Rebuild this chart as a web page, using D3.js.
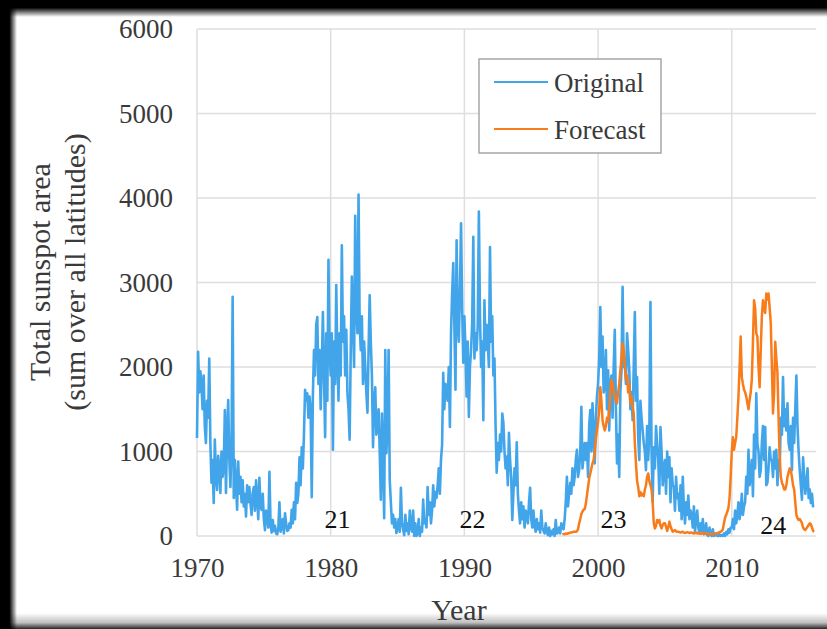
<!DOCTYPE html>
<html>
<head>
<meta charset="utf-8">
<script src="https://cdn.jsdelivr.net/npm/d3@7/dist/d3.min.js"></script>
<style>
  body { margin: 0; background: #fff; }
  svg { display: block; }
</style>
</head>
<body>
<div id="chart"></div>
<script>
// monthly total sunspot area (one row per year)
const originalStart = 1970;
const originalArea = [
  1160, 2180, 1700, 1950, 1800, 1500, 1900, 1300, 1100, 1600, 1400, 2100, // 1970
  1100, 630, 900, 390, 1140, 700, 545, 950, 800, 510, 1000, 700,
  800, 1490, 510, 1200, 1610, 900, 580, 1100, 2830, 450, 900, 600,
  310, 880, 500, 700, 400, 660, 350, 500, 230, 600, 400, 580,
  390, 250, 500, 580, 300, 660, 450, 200, 690, 350, 310, 500,
  200, 70, 300, 230, 100, 760, 150, 40, 190, 60, 120, 30,           // 1975
  20, 100, 400, 50, 110, 200, 30, 270, 150, 60, 70, 150,
  100, 310, 150, 400, 200, 630, 390, 500, 930, 600, 1050, 800,
  1200, 1730, 1600, 1690, 1400, 1650, 1500, 460, 1650, 2200, 1900, 2500,
  2590, 1800, 2200, 1500, 2000, 2650, 1900, 1170, 2400, 1600, 3270, 2200,
  1900, 2400, 1020, 2300, 1800, 2970, 2100, 1600, 2400, 1900, 3440, 2300, // 1980
  2600, 1900, 2440, 1700, 1500, 1140, 2200, 3070, 2500, 2000, 3790, 2700,
  2400, 4040, 2500, 2200, 2600, 1800, 2300, 2000, 1700, 1460, 2200, 2850,
  2300, 1900, 1050, 1600, 1760, 1200, 1290, 1500, 1000, 430, 1450, 900,
  210, 2200, 980, 1300, 2200, 660, 400, 150, 250, 100, 200, 35,
  100, 200, 50, 570, 150, 80, 10, 250, 60, 150, 20, 300,             // 1985
  100, 50, 300, 0, 150, 0, 30, 200, 0, 100, 50, 430,
  150, 200, 100, 580, 250, 400, 150, 300, 600, 350, 520, 450,
  600, 800, 500, 900, 1080, 1930, 1500, 1800, 1690, 1600, 2000, 1290,
  2400, 2870, 3230, 2500, 1730, 3500, 2600, 2300, 2900, 3700, 2700, 2050,
  2600, 2200, 1650, 2300, 1410, 2000, 2200, 2520, 3540, 2100, 2400, 2200, // 1990
  2500, 3840, 2600, 2000, 2300, 1370, 2790, 2200, 2500, 2300, 2000, 3420,
  2300, 2600, 1900, 2100, 1300, 750, 1100, 900, 1200, 1000, 1450, 1340,
  1000, 800, 940, 600, 1220, 900, 700, 190, 520, 800, 600, 1110,
  500, 300, 150, 400, 200, 350, 100, 300, 250, 150, 400, 570,
  200, 100, 300, 120, 50, 200, 80, 150, 40, 300, 100, 60,            // 1995
  30, 150, 50, 10, 100, 0, 60, 20, 80, 0, 190, 30,
  40, 100, 30, 150, 100, 80, 200, 400, 700, 350, 500, 630,
  500, 800, 600, 700, 900, 1020, 700, 780, 1000, 1530, 800, 930,
  1100, 900, 1100, 700, 1300, 1490, 1000, 1570, 1200, 860, 1400, 1650,
  1800, 2100, 2710, 2000, 2360, 1700, 1760, 2200, 1500, 1960, 1250, 1800, // 2000
  1900, 1400, 2000, 2440, 1500, 860, 1200, 700, 1700, 1960, 2950, 2000,
  2100, 1800, 2400, 2200, 1960, 1500, 1700, 1370, 2000, 2650, 1600, 1880,
  1170, 900, 1600, 1400, 1250, 1100, 1000, 780, 1300, 900, 1200, 2770,
  1000, 400, 1050, 800, 1300, 1100, 900, 500, 1290, 1000, 600, 800,
  900, 500, 1000, 700, 930, 400, 800, 600, 580, 300, 700, 450,       // 2005
  500, 300, 600, 200, 700, 350, 150, 400, 250, 480, 200, 300,
  250, 100, 350, 50, 200, 300, 100, 30, 150, 60, 200, 20,
  50, 150, 10, 0, 100, 20, 0, 80, 0, 10, 30, 0,
  0, 20, 0, 10, 0, 30, 0, 50, 20, 80, 40, 100,
  100, 200, 80, 300, 150, 250, 400, 200, 300, 500, 250, 350,         // 2010
  400, 700, 500, 1020, 600, 700, 900, 470, 1200, 800, 1690, 1100,
  1000, 700, 780, 1100, 1300, 900, 1290, 600, 630, 800, 1050, 900,
  900, 700, 1000, 800, 1020, 600, 900, 780, 1400, 1200, 1880, 1300,
  1500, 1250, 1570, 1100, 1020, 1300, 780, 1400, 1100, 1500, 1900, 1300,
  1000, 780, 600, 430, 930, 700, 500, 630, 800, 450, 550, 390,       // 2015
  500, 340
];

// forecast starts May 1997
const forecastStart = 1997 + 4 / 12;
const forecastArea = [
  20, 25, 20, 30, 25, 30, 35, 40,                                    // 1997
  40, 45, 50, 50, 50, 55, 80, 150, 200, 260, 290, 310,
  320, 380, 480, 580, 680, 740, 800, 860, 900, 1000, 1150, 1250,
  1350, 1490, 1760, 1600, 1370, 1300, 1250, 1300, 1400, 1350, 1490, 1700, // 2000
  1850, 1800, 1700, 1650, 1600, 1570, 1700, 1800, 1960, 2100, 2280, 2200,
  2000, 1850, 1900, 1700, 1800, 1570, 1650, 1530, 1450, 1100, 860, 650,
  580, 470, 520, 480, 500, 470, 550, 600, 700, 740, 650, 600,
  550, 400, 150, 90, 120, 190, 160, 190, 120, 90, 130, 150,
  150, 110, 60, 100, 170, 120, 80, 50, 60, 70, 55, 50,               // 2005
  50, 45, 40, 45, 50, 40, 35, 40, 45, 40, 35, 40,
  40, 35, 30, 35, 40, 30, 35, 30, 25, 30, 35, 30,
  30, 25, 30, 20, 25, 30, 25, 20, 25, 30, 25, 30,
  40, 45, 50, 60, 80, 150, 220, 250, 290, 330, 450, 700,
  1000, 1170, 1020, 1100, 1170, 1400, 1650, 2000, 2360, 1880, 1800, 1730, // 2010
  1700, 1650, 1570, 1500, 1610, 1700, 1850, 2300, 2790, 2700, 2400, 2360,
  2000, 1760, 2200, 2600, 2790, 2700, 2640, 2870, 2800, 2870, 2700, 2520,
  2000, 1450, 1700, 2300, 2100, 1930, 1400, 930, 700, 630, 600, 550,
  550, 600, 700, 750, 800, 780, 700, 600, 550, 400, 250, 210,
  190, 200, 180, 150, 100, 80, 70, 90, 110, 130, 150, 140,           // 2015
  100, 60, 50
];

const seriesNames = ["Original", "Forecast"];
const yTicks = [0, 1000, 2000, 3000, 4000, 5000, 6000];
const xTicks = [1970, 1980, 1990, 2000, 2010];
const cycleNames = ["21", "22", "23", "24"];
const cycleYears = [1980.5, 1990.6, 2001.15, 2013.1];
const cycleLevels = [90, 100, 90, 25];

const COLOR_ORIGINAL = "#42a5ea";
const COLOR_FORECAST = "#f97c1a";
const W = 827, H = 629;
const margin = { top: 29, right: 11, bottom: 93, left: 197 };

const svg = d3.select("#chart").append("svg").attr("width", W).attr("height", H);

// dark slide frame (top / left / bottom shadows)
const defs = svg.append("defs");
function grad(id, x2, y2, stops) {
    const g = defs.append("linearGradient").attr("id", id)
        .attr("x1", 0).attr("y1", 0).attr("x2", x2).attr("y2", y2);
    stops.forEach(s => g.append("stop").attr("offset", s[0]).attr("stop-color", s[1]).attr("stop-opacity", s[2]));
}
grad("gTop", 0, 1, [[0, "#000", 1], [0.45, "#000", 1], [1, "#000", 0]]);
grad("gLeft", 1, 0, [[0, "#000", 1], [0.55, "#000", 1], [1, "#000", 0]]);
grad("gBot", 0, 1, [[0, "#000", 0], [0.6, "#000", 0.25], [1, "#000", 0.85]]);

svg.append("rect").attr("width", W).attr("height", H).attr("fill", "#fff");
svg.append("rect").attr("x", 0).attr("y", 0).attr("width", W).attr("height", 17).attr("fill", "url(#gTop)");
svg.append("rect").attr("x", 0).attr("y", 0).attr("width", 17).attr("height", H).attr("fill", "url(#gLeft)");
svg.append("rect").attr("x", 0).attr("y", 613).attr("width", W).attr("height", 16).attr("fill", "url(#gBot)");

// scales
const x = d3.scaleLinear().domain([1970, 2016.3]).range([margin.left, W - margin.right]);
const y = d3.scaleLinear().domain([0, 6000]).range([H - margin.bottom, margin.top]);

const serif = "'Liberation Serif', 'Times New Roman', serif";

// gridlines
const grid = svg.append("g");
grid.selectAll("line.h").data(yTicks).join("line").attr("class", "h")
    .attr("x1", x(1970)).attr("x2", x.range()[1])
    .attr("y1", d => y(d)).attr("y2", d => y(d))
    .attr("stroke", "#dedede").attr("stroke-width", 1.5);
grid.selectAll("line.v").data(xTicks).join("line").attr("class", "v")
    .attr("x1", d => x(d)).attr("x2", d => x(d))
    .attr("y1", y(6000)).attr("y2", y(0))
    .attr("stroke", "#dedede").attr("stroke-width", 1.5);

// axes (labels only, no domain / tick marks)
const yAxis = d3.axisLeft(y).tickValues(yTicks).tickSize(0).tickPadding(24).tickFormat(d3.format("d"));
const gY = svg.append("g").attr("transform", `translate(${margin.left},0)`).call(yAxis);
const xAxis = d3.axisBottom(x).tickValues(xTicks).tickSize(0).tickPadding(22).tickFormat(d3.format("d"));
const gX = svg.append("g").attr("transform", `translate(0,${y(0)})`).call(xAxis);
[gY, gX].forEach(g => {
    g.select(".domain").remove();
    g.selectAll("text").attr("font-family", serif).attr("font-size", 27).attr("fill", "#3a3a3a");
});

// lines
const toPoints = (start, arr) => arr.map((v, i) => [start + i / 12, v]);
const line = d3.line().x(d => x(d[0])).y(d => y(d[1]));

svg.append("path").datum(toPoints(originalStart, originalArea))
    .attr("d", line).attr("fill", "none")
    .attr("stroke", COLOR_ORIGINAL).attr("stroke-width", 2.6).attr("stroke-linejoin", "round");
svg.append("path").datum(toPoints(forecastStart, forecastArea))
    .attr("d", line).attr("fill", "none")
    .attr("stroke", COLOR_FORECAST).attr("stroke-width", 2.5).attr("stroke-linejoin", "round");

// cycle numbers
svg.selectAll("text.cycle").data(cycleNames).join("text").attr("class", "cycle")
    .attr("x", (d, i) => x(cycleYears[i]))
    .attr("y", (d, i) => y(cycleLevels[i]))
    .attr("text-anchor", "middle")
    .attr("font-family", serif).attr("font-size", 26).attr("fill", "#111")
    .text(d => d);

// axis titles
svg.append("text").attr("x", 459).attr("y", 620)
    .attr("text-anchor", "middle").attr("font-family", serif).attr("font-size", 30).attr("fill", "#3a3a3a")
    .text("Year");
const yTitle = svg.append("text").attr("transform", "translate(50,272) rotate(-90)")
    .attr("text-anchor", "middle").attr("font-family", serif).attr("font-size", 30).attr("fill", "#3a3a3a");
yTitle.append("tspan").attr("x", 0).attr("dy", 0).text("Total sunspot area");
yTitle.append("tspan").attr("x", 0).attr("dy", 35).text("(sum over all latitudes)");

// legend
const legend = svg.append("g").attr("transform", "translate(479,59)");
legend.append("rect").attr("width", 182).attr("height", 94)
    .attr("fill", "#fff").attr("stroke", "#a6a6a6").attr("stroke-width", 1.5);
const item = legend.selectAll("g.item").data(seriesNames).join("g").attr("class", "item")
    .attr("transform", (d, i) => `translate(0,${23 + i * 47})`);
item.append("line").attr("x1", 15).attr("x2", 69)
    .attr("stroke", (d, i) => i === 0 ? COLOR_ORIGINAL : COLOR_FORECAST).attr("stroke-width", 2);
item.append("text").attr("x", 75).attr("y", 10)
    .attr("font-family", serif).attr("font-size", 27).attr("fill", "#3a3a3a")
    .text(d => d);
</script>
</body>
</html>
